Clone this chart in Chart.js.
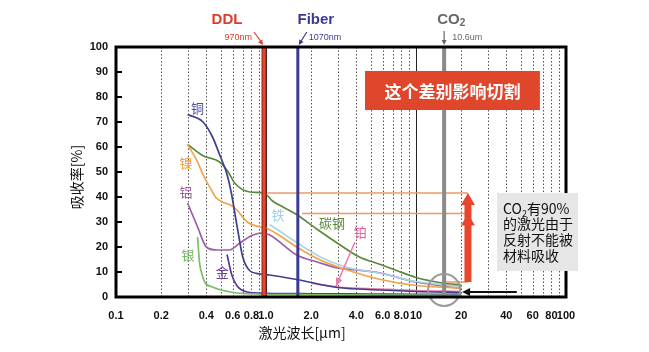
<!DOCTYPE html>
<html>
<head>
<meta charset="utf-8">
<script src="https://cdn.jsdelivr.net/npm/chart.js@4"></script>
<style>
html, body { margin: 0; padding: 0; background: #fff; }
#c { display: block; }
</style>
</head>
<body>
<canvas id="c" width="649" height="352" style="width:649px;height:352px"></canvas>
<script>
// tick labels on the wavelength axis
var xTicks = [0.1, 0.2, 0.4, 0.6, 0.8, 1, 2, 4, 6, 8, 10, 20, 40, 60, 80, 100]
var xTickLabels = ['0.1', '0.2', '0.4', '0.6', '0.8', '1.0', '2.0', '4.0', '6.0', '8.0', '10', '20', '40', '60', '80', '100']
var xMinorGrid = [0.2, 0.3, 0.4, 0.5, 0.6, 0.7, 0.8, 0.9, 2, 3, 4, 5, 6, 7, 8, 9, 20, 30, 40, 50, 60, 70, 80, 90]
var xMajorGrid = [1, 10]

// absorption curves [wavelength um, absorption %]
var copper = [[0.3, 73], [0.38, 70], [0.44, 64], [0.49, 57], [0.55, 49], [0.59, 41], [0.63, 31], [0.66, 24], [0.7, 16], [0.78, 10.5], [0.91, 9.2], [1.06, 8.8], [1.6, 7], [3.0, 3.8], [5.75, 2.8], [10, 2.2], [20, 1.8]]
var nickel = [[0.3, 61], [0.35, 54], [0.38, 49], [0.44, 42], [0.46, 40], [0.51, 38], [0.58, 36.8], [0.64, 34.8], [0.75, 30], [0.91, 28], [1.0, 27.6], [1.2, 25], [1.6, 20], [2.3, 14.8], [3.4, 11], [5.8, 7], [10, 4.6], [20, 3.6]]
var carbonSteel = [[0.3, 61], [0.38, 56.5], [0.49, 54], [0.56, 50], [0.62, 45.5], [0.78, 42], [0.97, 41.6], [1.1, 38.5], [1.3, 36], [1.6, 33], [2.2, 27], [3.0, 21.5], [4.2, 16], [5.8, 13], [7.5, 10.5], [10, 7.8], [15, 5.6], [20, 4.8]]
var iron = [[1.06, 29], [1.6, 21.8], [2.3, 16], [3.4, 12], [5.75, 9.5], [10, 6.2], [20, 4.2]]
var aluminum = [[0.3, 37.6], [0.35, 28], [0.4, 20], [0.47, 18.8], [0.57, 18.8], [0.67, 21.6], [0.82, 24.8], [0.95, 25.6], [1.06, 24.8], [1.6, 16.8], [2.2, 14], [3.0, 11.6], [4.0, 10.8], [5.75, 9.6], [10, 6], [20, 3.4]]
var silver = [[0.35, 24], [0.36, 14], [0.375, 9], [0.39, 6], [0.44, 4], [0.58, 2], [0.82, 1.2], [2, 0.9], [20, 0.7]]
var gold = [[0.55, 17], [0.59, 9], [0.64, 4.5], [0.75, 2], [1, 1.5], [2, 1.3], [5, 1.2], [10, 1.1], [20, 1.1]]
var platinum = [[2, 5.5], [3, 4], [5.8, 3.2], [10, 2.6], [20, 2.2]]

// laser wavelengths as placed on the drawing
var laserNames = ['DDL', 'Fiber', 'CO2']
var laserSub = ['970nm', '1070nm', '10.6um']
var laserAt = [0.97, 1.63, 15.4]

// reference levels: carbon steel at DDL, at Fiber, and CO2 level
var levels = [41.6, 33.4, 6]

var curveLabels = ['铜', '镍', '铝', '银', '金', '铁', '碳钢', '铂']
var curveLabelAt = [[0.35, 75.6], [0.293, 53.6], [0.293, 42], [0.302, 16.8], [0.51, 10], [1.2, 32.8], [2.75, 29.6], [4.25, 26]]

var series = [
    {name: '铜', data: copper, color: '#3f3f8e'},
    {name: '镍', data: nickel, color: '#f2a348'},
    {name: '碳钢', data: carbonSteel, color: '#5b8a3c'},
    {name: '铁', data: iron, color: '#a9d5e6'},
    {name: '铝', data: aluminum, color: '#9b5fa7'},
    {name: '银', data: silver, color: '#7dbd6b'},
    {name: '金', data: gold, color: '#5a3b96'},
    {name: '铂', data: platinum, color: '#e97ba8'}
]
var labelColors = ['#4b4b98', '#f0a040', '#a05aa8', '#72b860', '#6a3f9e', '#9fd0e4', '#5b8a3c', '#e2609a']

var cjk = '"Noto Sans CJK SC", sans-serif'
var latin = '"Liberation Sans", Arial, sans-serif'

function line(ctx, x1, y1, x2, y2) {
    ctx.beginPath()
    ctx.moveTo(x1, y1)
    ctx.lineTo(x2, y2)
    ctx.stroke()
}

function head(ctx, x1, y1, x2, y2, len, half) {
    var a = Math.atan2(y2 - y1, x2 - x1)
    ctx.beginPath()
    ctx.moveTo(x2, y2)
    ctx.lineTo(x2 - len * Math.cos(a) + half * Math.sin(a), y2 - len * Math.sin(a) - half * Math.cos(a))
    ctx.lineTo(x2 - len * Math.cos(a) - half * Math.sin(a), y2 - len * Math.sin(a) + half * Math.cos(a))
    ctx.closePath()
    ctx.fill()
}

var overlay = {
    id: 'overlay',
    beforeDatasetsDraw: function(chart) {
        var ctx = chart.ctx, a = chart.chartArea, x = chart.scales.x
        ctx.save()
        ctx.lineWidth = 1
        ctx.strokeStyle = '#555'
        ctx.setLineDash([1.5, 2])
        for (var v of xMinorGrid) {
            var px = Math.round(x.getPixelForValue(v)) + 0.5
            line(ctx, px, a.top, px, a.bottom)
        }
        ctx.setLineDash([])
        ctx.strokeStyle = '#222'
        for (var v of xMajorGrid) {
            var px = Math.round(x.getPixelForValue(v)) + 0.5
            line(ctx, px, a.top, px, a.bottom)
        }
        ctx.restore()
    },
    afterDatasetsDraw: function(chart) {
        var ctx = chart.ctx, a = chart.chartArea, x = chart.scales.x, y = chart.scales.y
        ctx.save()

        // orange reference lines
        var arrowX = x.getPixelForValue(22.2)
        ctx.strokeStyle = '#ec9a6a'
        ctx.lineWidth = 1.5
        line(ctx, x.getPixelForValue(1.02), y.getPixelForValue(levels[0]), arrowX, y.getPixelForValue(levels[0]))
        line(ctx, x.getPixelForValue(1.74), y.getPixelForValue(levels[1]), arrowX, y.getPixelForValue(levels[1]))
        line(ctx, x.getPixelForValue(laserAt[2]), y.getPixelForValue(levels[2]), arrowX, y.getPixelForValue(levels[2]))

        // laser lines
        var dx = x.getPixelForValue(laserAt[0])
        ctx.fillStyle = '#8c2418'
        ctx.fillRect(dx - 2.5, a.top, 5, a.bottom - a.top)
        ctx.fillStyle = '#e4472c'
        ctx.fillRect(dx - 1.5, a.top, 3, a.bottom - a.top)
        var fx = x.getPixelForValue(laserAt[1])
        ctx.fillStyle = '#3b3b8f'
        ctx.fillRect(fx - 1.5, a.top, 3, a.bottom - a.top)
        var cx = x.getPixelForValue(laserAt[2])
        ctx.fillStyle = '#8a8a8a'
        ctx.fillRect(cx - 2, a.top, 4, a.bottom - a.top)

        // red double arrow
        var top = y.getPixelForValue(levels[0]), mid = y.getPixelForValue(levels[1]), bot = y.getPixelForValue(levels[2])
        ctx.fillStyle = '#e8452c'
        ctx.fillRect(arrowX - 3.5, top + 8, 7, bot - top - 8)
        head(ctx, arrowX, top + 14, arrowX, top, 12, 7)
        head(ctx, arrowX, mid + 14, arrowX, mid, 12, 7)

        // circle on CO2 line
        ctx.strokeStyle = '#999'
        ctx.lineWidth = 2
        ctx.beginPath()
        ctx.arc(cx, y.getPixelForValue(2.8), 16, 0, Math.PI * 2)
        ctx.stroke()

        // black arrow to the circle
        var ay = y.getPixelForValue(2)
        ctx.strokeStyle = '#111'
        ctx.fillStyle = '#111'
        ctx.lineWidth = 2
        line(ctx, x.getPixelForValue(47), ay, x.getPixelForValue(20.3) + 6, ay)
        head(ctx, x.getPixelForValue(47), ay, x.getPixelForValue(20.3), ay, 8, 4)

        // pink pointer to platinum
        ctx.strokeStyle = '#e97ba8'
        ctx.fillStyle = '#e97ba8'
        ctx.lineWidth = 1.5
        var p1x = x.getPixelForValue(3.92), p1y = y.getPixelForValue(22), p2x = x.getPixelForValue(2.93), p2y = y.getPixelForValue(4.4)
        line(ctx, p1x, p1y, p2x, p2y)
        head(ctx, p1x, p1y, p2x, p2y, 8, 3.5)

        // curve labels
        ctx.font = '13px ' + cjk
        ctx.textAlign = 'center'
        ctx.textBaseline = 'middle'
        for (var i = 0; i < curveLabels.length; i++) {
            ctx.fillStyle = labelColors[i]
            ctx.fillText(curveLabels[i], x.getPixelForValue(curveLabelAt[i][0]), y.getPixelForValue(curveLabelAt[i][1]))
        }

        // frame
        ctx.strokeStyle = '#000'
        ctx.lineWidth = 3
        ctx.strokeRect(a.left, a.top, a.right - a.left, a.bottom - a.top)
        ctx.lineWidth = 2
        for (var t = 10; t < 100; t += 10) {
            var ty = y.getPixelForValue(t)
            line(ctx, a.left, ty, a.left + 6, ty)
        }

        // red banner
        var bx1 = x.getPixelForValue(4.57), bx2 = x.getPixelForValue(67)
        var by1 = y.getPixelForValue(90.4), by2 = y.getPixelForValue(74.8)
        ctx.fillStyle = '#e0462c'
        ctx.fillRect(bx1, by1, bx2 - bx1, by2 - by1)
        ctx.fillStyle = '#fff'
        ctx.font = 'bold 17px ' + cjk
        ctx.fillText('这个差别影响切割', (bx1 + bx2) / 2, (by1 + by2) / 2 + 1)

        // grey note box
        var nx = x.getPixelForValue(34.7), ny = y.getPixelForValue(41.6)
        ctx.fillStyle = '#e6e6e6'
        ctx.fillRect(nx, ny, 81, 78)
        ctx.fillStyle = '#111'
        ctx.textAlign = 'left'
        ctx.font = '14px ' + cjk
        var tx = nx + 6
        ctx.fillText('CO', tx, ny + 16)
        var w = ctx.measureText('CO').width
        ctx.font = '9px ' + cjk
        ctx.fillText('2', tx + w, ny + 21)
        var w2 = ctx.measureText('2').width
        ctx.font = '14px ' + cjk
        ctx.fillText('有90%', tx + w + w2, ny + 16)
        ctx.fillText('的激光由于', tx, ny + 31)
        ctx.fillText('反射不能被', tx, ny + 47)
        ctx.fillText('材料吸收', tx, ny + 63)

        // header above the plot
        var colors = ['#d8402c', '#3b3b8f', '#666']
        var centers = [dx - 37, fx + 18, cx + 6]
        ctx.textAlign = 'center'
        ctx.font = 'bold 15px ' + latin
        for (var i = 0; i < 2; i++) {
            ctx.fillStyle = colors[i]
            ctx.fillText(laserNames[i], centers[i], 20)
        }
        ctx.fillStyle = colors[2]
        ctx.textAlign = 'left'
        ctx.fillText('CO', cx - 7, 20)
        var cw = ctx.measureText('CO').width
        ctx.font = 'bold 10px ' + latin
        ctx.fillText('2', cx - 7 + cw, 23)

        ctx.font = '9px ' + latin
        ctx.textAlign = 'right'
        ctx.fillStyle = colors[0]
        ctx.fillText(laserSub[0], dx - 12, 38)
        ctx.textAlign = 'left'
        ctx.fillStyle = colors[1]
        ctx.fillText(laserSub[1], fx + 11, 38)
        ctx.fillStyle = colors[2]
        ctx.fillText(laserSub[2], cx + 8, 38)

        ctx.lineWidth = 1.2
        ctx.strokeStyle = colors[0]; ctx.fillStyle = colors[0]
        line(ctx, dx - 10, 32, dx - 2, 43)
        head(ctx, dx - 10, 32, dx - 1, 45, 5, 2.5)
        ctx.strokeStyle = colors[1]; ctx.fillStyle = colors[1]
        line(ctx, fx + 9, 32, fx + 2, 43)
        head(ctx, fx + 9, 32, fx + 1, 45, 5, 2.5)
        ctx.strokeStyle = colors[2]; ctx.fillStyle = colors[2]
        line(ctx, cx, 31, cx, 43)
        head(ctx, cx, 31, cx, 45, 5, 2.5)

        // axis titles
        ctx.fillStyle = '#111'
        ctx.textAlign = 'center'
        ctx.font = '14px ' + cjk
        ctx.fillText('激光波长[μm]', 302, 333)
        ctx.translate(77, 177)
        ctx.rotate(-Math.PI / 2)
        ctx.fillText('吸收率[%]', 0, 0)

        ctx.restore()
    }
}

var datasets = series.map(function(s) {
    return {
        label: s.name,
        data: s.data.map(function(p) { return {x: p[0], y: p[1]} }),
        borderColor: s.color,
        borderWidth: 1.7,
        pointRadius: 0,
        fill: false,
        cubicInterpolationMode: 'monotone'
    }
})

new Chart(document.getElementById('c'), {
    type: 'line',
    data: {datasets: datasets},
    plugins: [overlay],
    options: {
        responsive: false,
        animation: false,
        devicePixelRatio: 1,
        layout: {padding: {top: 47, right: 83, left: 0, bottom: 0}},
        plugins: {legend: {display: false}, tooltip: {enabled: false}},
        scales: {
            x: {
                type: 'logarithmic',
                min: 0.1,
                max: 100,
                afterBuildTicks: function(s) { s.ticks = xTicks.map(function(v) { return {value: v} }) },
                afterFit: function(s) { s.height = 55 },
                grid: {display: false, drawTicks: false},
                border: {display: false},
                ticks: {
                    autoSkip: false, maxRotation: 0, minRotation: 0, padding: 12,
                    color: '#111', font: {family: latin, size: 11, weight: 'bold'},
                    callback: function(v, i) { return xTickLabels[i] }
                }
            },
            y: {
                min: 0,
                max: 100,
                afterFit: function(s) { s.width = 116 },
                grid: {display: false, drawTicks: false},
                border: {display: false},
                ticks: {
                    stepSize: 10, padding: 8,
                    color: '#111', font: {family: latin, size: 11, weight: 'bold'}
                }
            }
        }
    }
})
</script>
</body>
</html>
